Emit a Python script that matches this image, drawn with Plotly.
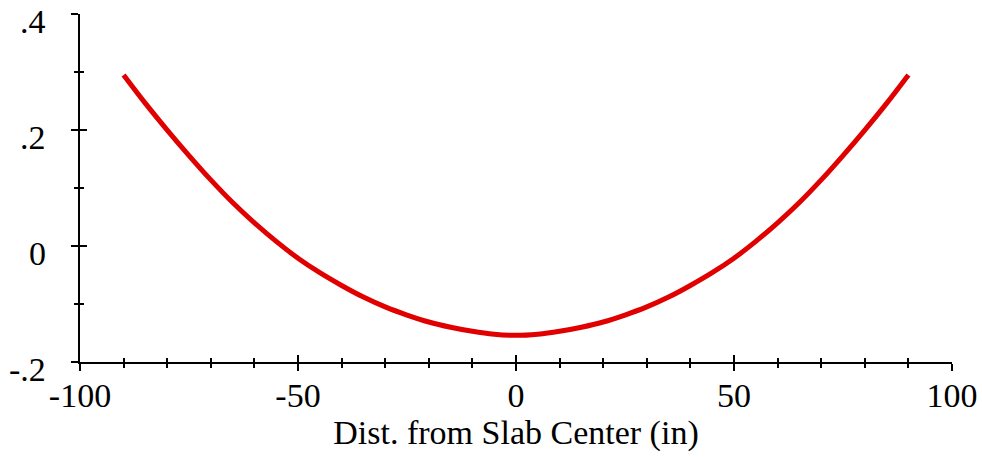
import plotly.graph_objects as go

# Data
dist_in = [-90, -85, -80, -75, -70, -65, -60, -55, -50, -45, -40, -35, -30, -25, -20, -15, -10, -5, 0,
           5, 10, 15, 20, 25, 30, 35, 40, 45, 50, 55, 60, 65, 70, 75, 80, 85, 90]
value = [0.295, 0.246, 0.200, 0.156, 0.114, 0.075, 0.040, 0.008, -0.021, -0.046, -0.068, -0.088,
         -0.105, -0.119, -0.131, -0.140, -0.147, -0.152, -0.154,
         -0.152, -0.147, -0.140, -0.131, -0.119, -0.105, -0.088, -0.068, -0.046, -0.021, 0.008,
         0.040, 0.075, 0.114, 0.156, 0.200, 0.246, 0.295]

x_tickvals = [-100, -50, 0, 50, 100]
x_ticktext = ["-100", "-50", "0", "50", "100"]
y_tickvals = [-0.2, 0, 0.2, 0.4]
y_ticktext = ["-.2", "0", ".2", ".4"]
x_title = "Dist. from Slab Center (in)"

FONT = "Liberation Serif, Times New Roman, serif"

fig = go.Figure()
fig.add_trace(go.Scatter(x=dist_in, y=value, mode="lines",
                         line=dict(color="#e00000", width=5, shape="spline"),
                         showlegend=False, hoverinfo="skip"))
# empty trace to activate overlay axes (used for ticks on the inner side)
fig.add_trace(go.Scatter(x=[None], y=[None], xaxis="x2", yaxis="y2",
                         showlegend=False, hoverinfo="skip"))

common_font = dict(family=FONT, size=34, color="black")

# y tick labels as annotations (slightly below their ticks, as in the reference)
for v, t in zip(y_tickvals, y_ticktext):
    fig.add_annotation(x=0, xref="paper", y=v, yref="y", text=t, showarrow=False,
                       xanchor="right", yanchor="middle", xshift=-32, yshift=-7,
                       font=common_font)

fig.update_layout(
    width=982, height=457,
    margin=dict(l=80, r=30, t=14, b=95, autoexpand=False),
    paper_bgcolor="white", plot_bgcolor="white",
    font=common_font,
    xaxis=dict(range=[-100, 100], tickvals=x_tickvals, ticktext=x_ticktext, automargin=False,
               ticks="outside", ticklen=7, tickwidth=1.5, tickcolor="black",
               minor=dict(dtick=10, tick0=0, ticks="outside", ticklen=4, tickwidth=1.5, tickcolor="black"),
               showline=True, linecolor="black", linewidth=1.5, showgrid=False, zeroline=False,
               tickfont=common_font, ticklabelstandoff=-5, ticklabeloverflow="allow",
               title=dict(text=x_title, font=common_font, standoff=2)),
    yaxis=dict(range=[-0.2, 0.4001], tickvals=y_tickvals, automargin=False,
               ticks="outside", ticklen=7, tickwidth=1.5, tickcolor="black",
               minor=dict(dtick=0.1, tick0=0, ticks="outside", ticklen=4, tickwidth=1.5, tickcolor="black"),
               showline=True, linecolor="black", linewidth=1.5, showgrid=False, zeroline=False,
               showticklabels=False),
    xaxis2=dict(overlaying="x", matches="x", anchor="y", side="bottom", automargin=False,
                tickvals=x_tickvals, ticks="inside", ticklen=7, tickwidth=1.5, tickcolor="black",
                minor=dict(dtick=10, tick0=0, ticks="inside", ticklen=4, tickwidth=1.5, tickcolor="black"),
                showticklabels=False, showline=False, showgrid=False, zeroline=False),
    yaxis2=dict(overlaying="y", matches="y", anchor="x", side="left", automargin=False,
                tickvals=y_tickvals, ticks="inside", ticklen=7, tickwidth=1.5, tickcolor="black",
                minor=dict(dtick=0.1, tick0=0, ticks="inside", ticklen=4, tickwidth=1.5, tickcolor="black"),
                showticklabels=False, showline=False, showgrid=False, zeroline=False),
)

fig.write_html("out.html")
